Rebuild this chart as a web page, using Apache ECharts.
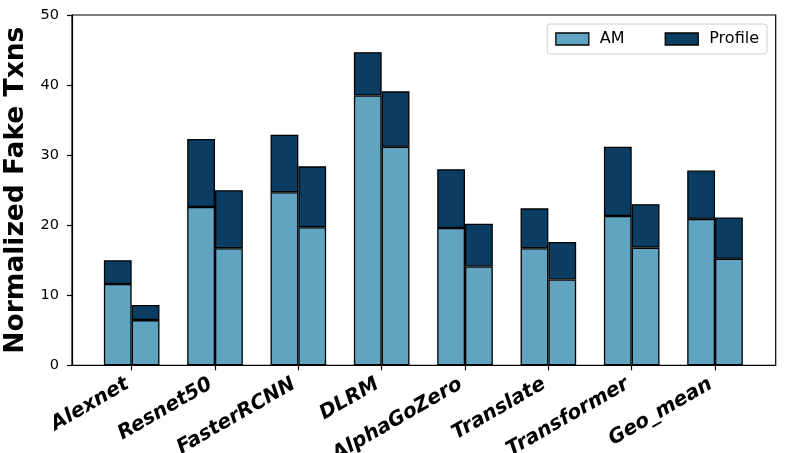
<!DOCTYPE html>
<html>
<head>
<meta charset="utf-8">
<script src="https://cdn.jsdelivr.net/npm/echarts@6/dist/echarts.min.js"></script>
<style>
html,body{margin:0;padding:0;background:#fff;}
#chart{width:788px;height:453px;}
</style>
</head>
<body>
<div id="chart"></div>
<script>
const categories = ['Alexnet','Resnet50','FasterRCNN','DLRM','AlphaGoZero','Translate','Transformer','Geo_mean'];
// left bar of each pair
const amLeft      = [11.6, 22.6, 24.7, 38.5, 19.6, 16.7, 21.3, 20.9];
const profileLeft = [3.4, 9.7, 8.2, 6.2, 8.4, 5.7, 9.9, 6.9];
// right bar of each pair
const amRight      = [6.45, 16.7, 19.7, 31.2, 14.1, 12.25, 16.8, 15.2];
const profileRight = [2.15, 8.3, 8.7, 7.9, 6.1, 5.35, 6.2, 5.9];
const yTicks = [0, 10, 20, 30, 40, 50];

const AM_COLOR = '#61a4bf';
const PROFILE_COLOR = '#0b3c61';
const FONT = 'DejaVu Sans';

const chart = echarts.init(document.getElementById('chart'), null, {renderer:'canvas'});
const barStyle = c => ({color:c, borderColor:'#000', borderWidth:1.3});
const mk = (name, stack, data, color) => ({
  name, type:'bar', stack, data, xAxisIndex:0, yAxisIndex:0,
  barWidth:27.8, barGap:'0%', itemStyle:barStyle(color), emphasis:{disabled:true}
});

chart.setOption({
  animation:false,
  textStyle:{fontFamily:FONT},
  grid:[
    {left:90, right:31.3, top:15, bottom:87.7, containLabel:false, outerBoundsMode:'none'},
    {left:72, right:12.3, top:15, bottom:87.7, containLabel:false, outerBoundsMode:'none', show:true, borderColor:'#000', borderWidth:1.2, backgroundColor:'transparent', z:10}
  ],
  legend:{
    data:['AM','Profile'],
    icon:'rect',
    right:21, top:24,
    itemWidth:33, itemHeight:12, itemGap:40,
    padding:[7,8,7,8],
    backgroundColor:'#fff', borderColor:'#d0d0d0', borderWidth:1, borderRadius:3,
    textStyle:{fontFamily:FONT, fontSize:16, color:'#000', padding:[0,0,0,6]},
    itemStyle:{borderColor:'#000', borderWidth:1.3}
  },
  xAxis:[
    {type:'category', gridIndex:0, data:categories, boundaryGap:true,
     axisLine:{show:true, lineStyle:{color:'#000', width:1.2}},
     axisTick:{show:true, alignWithLabel:true, length:5, lineStyle:{color:'#000', width:1.2}},
     axisLabel:{interval:0, rotate:30, margin:15, padding:[0,5,0,0], fontFamily:FONT, fontSize:20, fontWeight:'bold', fontStyle:'italic', color:'#000'},
     splitLine:{show:false}},
    {type:'value', gridIndex:1, min:0, max:1, show:false}
  ],
  yAxis:[
    {type:'value', gridIndex:0, min:0, max:50, show:false},
    {type:'value', gridIndex:1, min:0, max:50, interval:10,
     name:'Normalized Fake Txns', nameLocation:'middle', nameGap:42,
     nameTextStyle:{fontFamily:FONT, fontSize:26.5, fontWeight:'bold', color:'#000'},
     axisLine:{show:true, lineStyle:{color:'#000', width:1.2}},
     axisTick:{show:true, length:5, lineStyle:{color:'#000', width:1.2}},
     axisLabel:{fontFamily:FONT, fontSize:14.5, color:'#000', margin:13,
       formatter: v => yTicks.includes(v) ? String(v) : ''},
     splitLine:{show:false}}
  ],
  series:[
    mk('AM','left',amLeft,AM_COLOR),
    mk('Profile','left',profileLeft,PROFILE_COLOR),
    mk('AM','right',amRight,AM_COLOR),
    mk('Profile','right',profileRight,PROFILE_COLOR)
  ]
});
</script>
</body>
</html>
